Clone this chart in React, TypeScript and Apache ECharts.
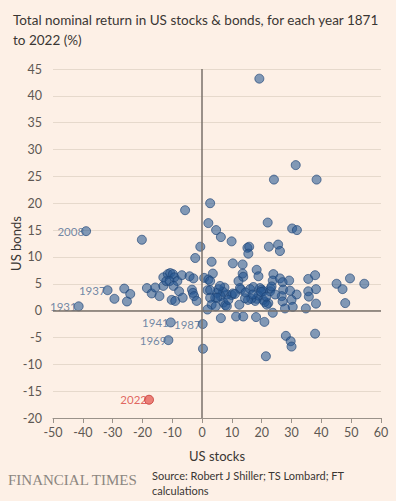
import React, { useEffect, useRef } from "react";
import * as echarts from "echarts";

// Unlabelled years: [stock return %, bond return %]
const stockReturns = [
  19.2, 31.4, 24.1, 38.4, 2.7, -5.7, 2.1, 22.0, 30.2, 31.8, 4.7, 6.3, -20.2, 9.9, -0.6,
  15.2, 15.8, 15.5, 22.4, 25.5, 26.1, -2.3, 3.2, 10.3, 13.6, 18.3, 18.9, 13.6, 13.8, 3.6,
  0.7, 2.1, 2.7, 23.9, 23.7, 26.1, 27.0, 29.2, 12.2, 35.6, 37.9, 45.1, 47.1, 49.6, 54.4,
  48.0, 38.2, 38.2, 35.6, 35.8, 34.8, 31.7, 30.0, 30.4, 27.2, 26.7, 27.0, 27.8, 22.8, 23.0,
  23.3, 22.2, 21.0, 20.5, 21.7, 19.4, 20.0, 20.5, 18.3, 18.9, 17.8, 17.2, 16.1, 16.5, 15.4,
  14.4, 13.0, 12.5, 12.7, 9.9, 8.3, 7.5, 7.0, 6.2, 5.5, 5.0, 4.4, 5.1, 1.8, 2.7,
  2.7, 3.2, 4.6, 7.2, 7.8, 8.3, 1.8, 6.3, 11.4, 13.8, 18.1, 20.9, 23.7, 28.1, 29.7,
  30.0, 37.9, 21.4, 0.3, -29.4, -26.1, -24.1, -25.2, -18.5, -16.9, -15.7, -14.3, -13.0, -13.0, -12.0,
  -11.5, -10.7, -9.8, -9.3, -10.9, -8.3, -9.6, -7.7, -6.8, -10.2, -9.0, -6.5, -4.2, -2.9, -3.4,
  -3.1, -2.7, -1.8, 10.3, 14.6, 17.0, 19.8, 21.5, 6.0, 8.8, 11.0, 24.5, 29.5,
];
const bondReturns = [
  43.2, 27.1, 24.4, 24.4, 20.0, 18.7, 16.3, 16.4, 15.3, 15.0, 15.0, 13.7, 13.2, 12.9, 11.9,
  11.7, 11.9, 10.6, 11.9, 12.3, 11.1, 9.8, 9.1, 8.8, 8.6, 7.6, 6.4, 6.9, 6.3, 6.9,
  6.1, 5.8, 5.5, 6.8, 5.6, 6.0, 5.3, 5.6, 5.5, 5.9, 6.6, 5.0, 4.0, 6.0, 5.0,
  1.4, 4.0, 1.3, 3.6, 2.6, 0.4, 3.0, 2.0, 0.7, 3.9, 2.7, 1.7, 0.4, 3.6, 4.1,
  4.5, 1.4, 1.6, 2.0, 1.1, 4.2, 3.9, 3.6, 2.2, 2.8, 1.8, 4.4, 4.0, 2.2, 2.0,
  2.3, 3.9, 1.1, 4.2, 2.9, 3.0, 4.3, 3.5, 2.7, 4.0, 3.3, 2.4, 2.4, 3.8, 3.8,
  2.4, 1.1, 0.8, 1.5, 1.0, 0.8, 0.2, -1.4, -1.1, -1.1, -1.2, -2.1, -0.4, -4.7, -5.7,
  -6.7, -4.3, -8.5, -7.1, 2.2, 4.1, 3.1, 1.7, 4.2, 3.2, 4.3, 2.7, 4.6, 6.2, 5.5,
  6.8, 7.0, 6.8, 6.2, 5.5, 5.5, 4.6, 3.6, 6.6, 2.0, 1.8, 2.4, 6.4, 6.0, 3.9,
  3.3, 2.7, 1.8, 3.2, 3.4, 3.0, 3.5, 2.6, 4.6, 2.0, 3.1, 3.0, 3.7,
];

// Labelled years
const labelYears = ["2008", "1931", "1937", "1941", "1969", "1987"];
const labelStocks = [-38.9, -41.4, -31.7, -10.5, -11.3, 0.2];
const labelBonds = [14.8, 0.8, 3.8, -2.2, -5.5, -2.5];

// Highlighted latest year
const highlightYear = "2022";
const highlightStock = -17.8;
const highlightBond = -16.6;

const xTicks = { min: -50, max: 60, interval: 10 };
const yTicks = { min: -20, max: 45, interval: 5 };

const BG = "#fdf0e6";
const FONT = "Lato, 'Noto Sans', sans-serif";

export default function App() {
  const ref = useRef<HTMLDivElement>(null);

  useEffect(() => {
    document.body.style.margin = "0";
    const chart = echarts.init(ref.current!, undefined, { renderer: "svg" });

    const plain = stockReturns.map((s, i) => [s, bondReturns[i]]);
    const labelled = labelYears.map((y, i) => ({
      name: y,
      value: [labelStocks[i], labelBonds[i]],
    }));

    const dotStyle = {
      color: "rgba(38,86,146,0.72)",
      borderColor: "rgba(30,68,118,0.85)",
      borderWidth: 1,
    };

    chart.setOption({
      animation: false,
      backgroundColor: BG,
      textStyle: { fontFamily: FONT },
      title: {
        text: "Total nominal return in US stocks & bonds, for each year 1871\nto 2022 (%)",
        left: 8,
        top: 5,
        textStyle: {
          fontFamily: FONT,
          fontSize: 13.5,
          fontWeight: "normal",
          color: "#3a3633",
          lineHeight: 20,
        },
      },
      grid: {
        left: 53,
        right: 15,
        top: 69,
        bottom: 83,
        containLabel: false,
        outerBoundsMode: "none",
      },
      xAxis: {
        type: "value",
        min: xTicks.min,
        max: xTicks.max,
        interval: xTicks.interval,
        name: "US stocks",
        nameLocation: "middle",
        nameGap: 31,
        nameTextStyle: { fontSize: 13, color: "#3a3633", fontFamily: FONT },
        axisLine: { show: true, onZero: false, lineStyle: { color: "#9a928a", width: 1 } },
        axisTick: { show: true, length: 5, lineStyle: { color: "#9a928a" } },
        axisLabel: { fontSize: 12.5, color: "#5e5853", margin: 8, fontFamily: FONT },
        splitLine: { show: false },
      },
      yAxis: {
        type: "value",
        min: yTicks.min,
        max: yTicks.max,
        interval: yTicks.interval,
        name: "US bonds",
        nameLocation: "middle",
        nameGap: 31,
        nameMoveOverlap: false,
        nameTextStyle: { fontSize: 13, color: "#3a3633", fontFamily: FONT },
        axisLine: { show: false },
        axisTick: { show: false },
        axisLabel: { fontSize: 12.5, color: "#5e5853", margin: 11, fontFamily: FONT },
        splitLine: { show: true, lineStyle: { color: "#e6d9cc", width: 1 } },
      },
      series: [
        {
          type: "scatter",
          symbolSize: 9,
          itemStyle: dotStyle,
          data: plain,
          markLine: {
            silent: true,
            symbol: "none",
            label: { show: false },
            lineStyle: { color: "#79716a", width: 1.5, type: "solid" },
            data: [{ xAxis: 0 }, { yAxis: 0 }],
          },
          z: 3,
        },
        {
          type: "scatter",
          symbolSize: 9,
          itemStyle: dotStyle,
          data: labelled,
          label: {
            show: true,
            position: "left",
            distance: -3,
            formatter: "{b}",
            fontSize: 11.5,
            color: "#4d6c93",
            fontFamily: FONT,
          },
          z: 4,
        },
        {
          type: "scatter",
          symbolSize: 9,
          itemStyle: {
            color: "rgba(226,62,56,0.8)",
            borderColor: "rgba(190,45,40,0.9)",
            borderWidth: 1,
          },
          data: [{ name: highlightYear, value: [highlightStock, highlightBond] }],
          label: {
            show: true,
            position: "left",
            distance: -3,
            formatter: "{b}",
            fontSize: 11.5,
            color: "#d9423c",
            fontFamily: FONT,
          },
          z: 4,
        },
      ],
      graphic: [
        {
          type: "text",
          left: 8,
          top: 472,
          style: {
            text: "FINANCIAL TIMES",
            fontFamily: "'Liberation Serif', 'DejaVu Serif', serif",
            fontSize: 15,
            fill: "#8c8680",
          },
        },
        {
          type: "text",
          left: 152,
          top: 468,
          style: {
            text: "Source: Robert J Shiller; TS Lombard; FT\ncalculations",
            fontFamily: FONT,
            fontSize: 11,
            lineHeight: 15,
            fill: "#3a3633",
          },
        },
      ],
    });

    return () => chart.dispose();
  }, []);

  return <div ref={ref} style={{ width: 396, height: 501, background: BG }} />;
}
